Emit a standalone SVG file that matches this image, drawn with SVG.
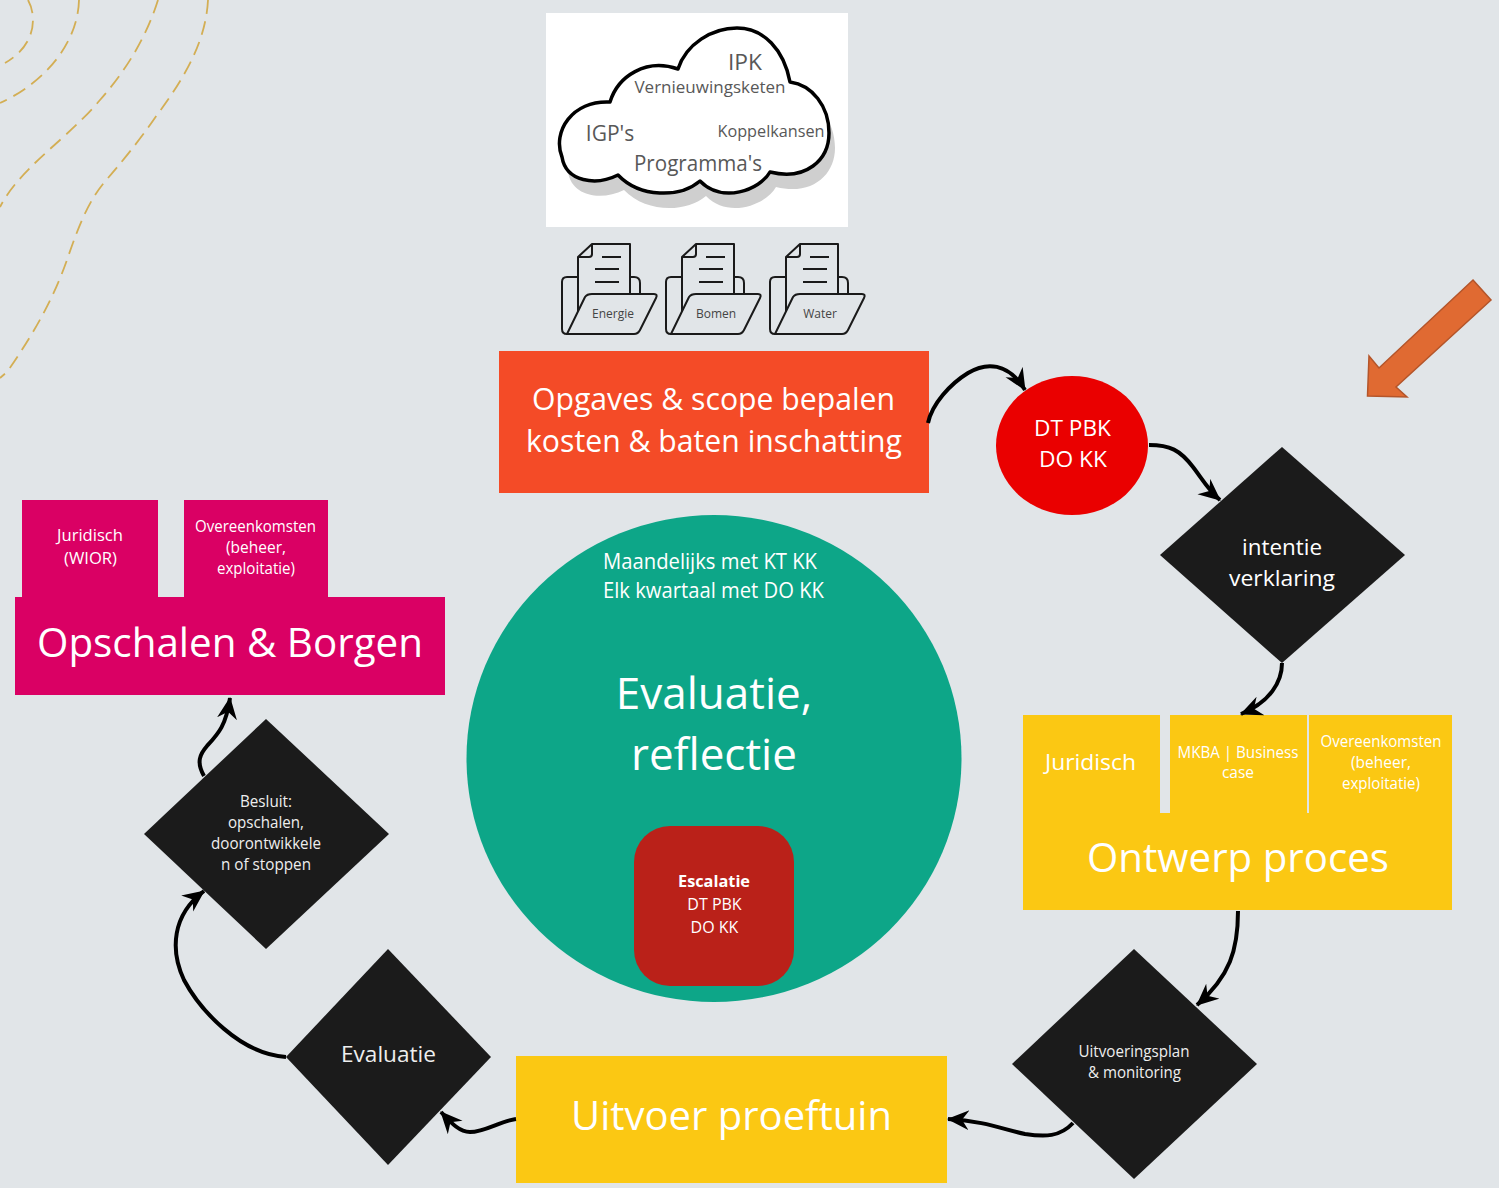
<svg xmlns="http://www.w3.org/2000/svg" width="1499" height="1188" viewBox="0 0 1499 1188">
<defs>
<marker id="ah" markerUnits="userSpaceOnUse" markerWidth="30" markerHeight="30" refX="21" refY="10" orient="auto"><path d="M0 0L22 10L0 20L7 10Z" fill="#000"/></marker>
<g id="folder" fill="none" stroke="#1a1a1a" stroke-width="2" stroke-linejoin="round">
<path d="M16 33H5Q0 33 0 38V85Q0 90 5 90"/>
<path d="M68 33H72Q78 33 78 39V50"/>
<path d="M16 68V13L30 0H68V50"/>
<path d="M16 13H27Q30 13 30 10V0"/>
<path d="M40 13H59M33 25H57M33 38H57"/>
<path d="M5 90L23 53Q25 50 30 50H92Q96 50 94 54L78 86Q76 90 72 90Z"/>
</g>
<path id="cloudshape" d="M678 69C686 44 712 28 737 28C764 28 784 50 790 82C812 85 829 106 829 133C829 160 806 181 770 172C760 190 722 204 700 181C680 198 640 198 618 175C596 186 566 182 562 157C552 132 572 100 610 102C618 76 646 58 678 69Z"/>
</defs>
<style>
text{font-family:"Open Sans","Noto Sans","Liberation Sans",sans-serif;text-anchor:middle;fill:#fff}
.cl{fill:#585858}
.fl{fill:#444;font-size:12px}
.dim{fill:#eee}
.dash{fill:none;stroke:#d3ae54;stroke-width:1.800;stroke-dasharray:14 7.500}
.con{fill:none;stroke:#000;stroke-width:4;marker-end:url(#ah)}
.y{fill:#fbc813}
.p{fill:#da0064}
.d{fill:#1b1b1b}
</style>
<rect width="1499" height="1188" fill="#e1e5e8"/>
<g id="deco">
<path class="dash" d="M28 0C36 14 38 44 5 63"/>
<path class="dash" d="M79 0C78 42 46 82 0 103"/>
<path class="dash" d="M158 0C148 32 130 66 100 100C80 124 50 148 35 163C22 176 10 188 0 207"/>
<path class="dash" d="M208 0C206 40 186 76 157 115C140 140 120 164 108 178C90 198 80 222 68 257C56 292 38 328 7 372L0 378"/>
</g>
<g id="cloud-card">
<rect x="546" y="13" width="302" height="214" fill="#fff"/>
<use href="#cloudshape" fill="#cfcfcf" transform="translate(6 15)"/>
<use href="#cloudshape" fill="#fff" stroke="#000" stroke-width="3.500" stroke-linejoin="round"/>
<text class="cl" x="745" y="70" font-size="21" textLength="34" lengthAdjust="spacingAndGlyphs">IPK</text>
<text class="cl" x="710" y="93" font-size="17">Vernieuwingsketen</text>
<text class="cl" x="610" y="141" font-size="21">IGP's</text>
<text class="cl" x="771" y="137" font-size="16" textLength="107" lengthAdjust="spacingAndGlyphs">Koppelkansen</text>
<text class="cl" x="698" y="171" font-size="21" textLength="128" lengthAdjust="spacingAndGlyphs">Programma's</text>
</g>
<g id="folder-energie"><use href="#folder" x="562" y="244"/><text class="fl" x="613" y="318">Energie</text></g>
<g id="folder-bomen"><use href="#folder" x="666" y="244"/><text class="fl" x="716" y="318">Bomen</text></g>
<g id="folder-water"><use href="#folder" x="770" y="244"/><text class="fl" x="820" y="318">Water</text></g>
<g id="opgaves">
<rect x="499" y="351" width="430" height="142" fill="#f44b27"/>
<text x="713.500" y="410" font-size="31" textLength="363" lengthAdjust="spacingAndGlyphs">Opgaves &amp; scope bepalen</text>
<text x="714" y="452" font-size="31" textLength="376" lengthAdjust="spacingAndGlyphs">kosten &amp; baten inschatting</text>
</g>
<g id="dt-pbk">
<ellipse cx="1072" cy="445.500" rx="76" ry="69.500" fill="#ea0000"/>
<text x="1072.500" y="436" font-size="22.500" textLength="77" lengthAdjust="spacingAndGlyphs">DT PBK</text>
<text x="1073" y="467" font-size="22.500" textLength="68" lengthAdjust="spacingAndGlyphs">DO KK</text>
</g>
<g id="intentie">
<polygon class="d" points="1282,447 1405,555 1282,663 1160,555"/>
<text x="1282" y="555" font-size="22.500" textLength="80" lengthAdjust="spacingAndGlyphs">intentie</text>
<text x="1282" y="586" font-size="22.500" textLength="106" lengthAdjust="spacingAndGlyphs">verklaring</text>
</g>
<g id="arrow-orange">
<polygon points="1473,280 1491,300 1396,387 1407,397 1367.500,396 1369,356 1379,368" fill="#e06a32" stroke="#b4552a" stroke-width="1.500"/>
</g>
<g id="ontwerp">
<rect class="y" x="1023" y="715" width="137" height="98"/>
<rect class="y" x="1170" y="715" width="137" height="98"/>
<rect class="y" x="1309" y="715" width="143" height="98"/>
<rect class="y" x="1023" y="813" width="429" height="97"/>
<text x="1090.500" y="770" font-size="22.500" textLength="91" lengthAdjust="spacingAndGlyphs">Juridisch</text>
<text x="1238" y="758" font-size="15.500" textLength="121" lengthAdjust="spacingAndGlyphs">MKBA | Business</text>
<text x="1238" y="778" font-size="15.500">case</text>
<text x="1381" y="747" font-size="15.500" textLength="121" lengthAdjust="spacingAndGlyphs">Overeenkomsten</text>
<text x="1381" y="768" font-size="15.500">(beheer,</text>
<text x="1381" y="789" font-size="15.500" textLength="78" lengthAdjust="spacingAndGlyphs">exploitatie)</text>
<text x="1238" y="872" font-size="41" textLength="302" lengthAdjust="spacingAndGlyphs">Ontwerp proces</text>
</g>
<g id="uitvoeringsplan">
<polygon class="d" points="1134,949 1257,1064 1134,1179 1012,1064"/>
<text class="dim" x="1134" y="1057" font-size="15.500" textLength="111" lengthAdjust="spacingAndGlyphs">Uitvoeringsplan</text>
<text class="dim" x="1134.500" y="1078" font-size="15.500" textLength="93" lengthAdjust="spacingAndGlyphs">&amp; monitoring</text>
</g>
<g id="uitvoer">
<rect class="y" x="516" y="1056" width="431" height="127"/>
<text x="731.500" y="1130" font-size="41" textLength="321" lengthAdjust="spacingAndGlyphs">Uitvoer proeftuin</text>
</g>
<g id="evaluatie-diamond">
<polygon class="d" points="388,949 491,1057 388,1165 286,1057"/>
<text class="dim" x="388.500" y="1062" font-size="21.500" textLength="95" lengthAdjust="spacingAndGlyphs">Evaluatie</text>
</g>
<g id="besluit">
<polygon class="d" points="266,719 389,834 266,949 144,834"/>
<text class="dim" x="266" y="807" font-size="15.500" textLength="52" lengthAdjust="spacingAndGlyphs">Besluit:</text>
<text class="dim" x="266" y="828" font-size="15.500" textLength="76" lengthAdjust="spacingAndGlyphs">opschalen,</text>
<text class="dim" x="266" y="849" font-size="15.500" textLength="110" lengthAdjust="spacingAndGlyphs">doorontwikkele</text>
<text class="dim" x="266" y="870" font-size="15.500" textLength="90" lengthAdjust="spacingAndGlyphs">n of stoppen</text>
</g>
<g id="opschalen">
<rect class="p" x="22" y="500" width="136" height="98"/>
<rect class="p" x="184" y="500" width="144" height="98"/>
<rect class="p" x="15" y="597" width="430" height="98"/>
<text x="90" y="541" font-size="16" textLength="66" lengthAdjust="spacingAndGlyphs">Juridisch</text>
<text x="90.500" y="564" font-size="16" textLength="53" lengthAdjust="spacingAndGlyphs">(WIOR)</text>
<text x="255.500" y="532" font-size="15.500" textLength="121" lengthAdjust="spacingAndGlyphs">Overeenkomsten</text>
<text x="256" y="553" font-size="15.500">(beheer,</text>
<text x="256" y="574" font-size="15.500" textLength="78" lengthAdjust="spacingAndGlyphs">exploitatie)</text>
<text x="230" y="657" font-size="41" textLength="386" lengthAdjust="spacingAndGlyphs">Opschalen &amp; Borgen</text>
</g>
<g id="evaluatie-circle">
<ellipse cx="714" cy="758.500" rx="247.500" ry="243.500" fill="#0da688"/>
<text x="710" y="569" font-size="21" textLength="214" lengthAdjust="spacingAndGlyphs">Maandelijks met KT KK</text>
<text x="713.500" y="598" font-size="21" textLength="221" lengthAdjust="spacingAndGlyphs">Elk kwartaal met DO KK</text>
<text x="714" y="709" font-size="44">Evaluatie,</text>
<text x="714" y="770" font-size="44">reflectie</text>
</g>
<g id="escalatie">
<rect x="634" y="826" width="160" height="160" rx="36" fill="#ba2119"/>
<text x="714" y="887" font-size="16" font-weight="700" textLength="72" lengthAdjust="spacingAndGlyphs">Escalatie</text>
<text x="714.500" y="910" font-size="16">DT PBK</text>
<text x="714.500" y="933" font-size="16">DO KK</text>
</g>
<g id="connectors">
<path class="con" d="M928 423C932 404 950 384 968 373C986 362 1008 362 1025 390"/>
<path class="con" d="M1149 445C1170 445 1180 450 1193 467C1203 480 1208 490 1220 500"/>
<path class="con" d="M1282 663C1282 682 1270 702 1241 714"/>
<path class="con" d="M1238 911C1238 950 1230 976 1197 1005"/>
<path class="con" d="M1073 1123C1060 1137 1045 1137 1025 1134C1005 1130 985 1121 948 1119"/>
<path class="con" d="M516 1119C500 1121 485 1132 470 1132C460 1132 452 1124 441 1112"/>
<path class="con" d="M286 1057C240 1054 200 1010 184 980C170 950 172 915 204 891"/>
<path class="con" d="M204 776C196 762 200 754 207 746C218 734 226 726 230 698"/>
</g>
</svg>
